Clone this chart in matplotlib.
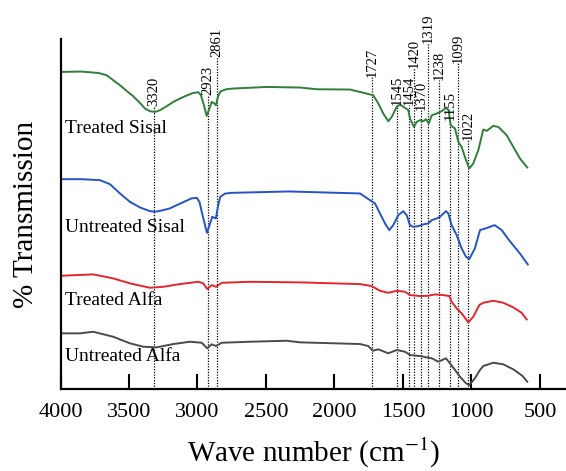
import numpy as np
import matplotlib
matplotlib.use("Agg")
import matplotlib.pyplot as plt

plt.rcParams['font.family'] = ['Liberation Serif', 'DejaVu Serif']
plt.rcParams['mathtext.fontset'] = 'stix'

# espectros FTIR (numero de onda, transmision relativa)
ts_wn = [4000, 3850, 3724, 3663, 3615, 3566, 3517, 3469, 3420, 3383, 3347, 3310, 3274, 3225,
         3177, 3128, 3079, 3031, 2994, 2975, 2955, 2933, 2915, 2896, 2880, 2865, 2850, 2831,
         2790, 2739, 2495, 2252, 2130, 1887, 1814, 1717, 1680, 1644, 1607, 1582, 1546, 1522,
         1485, 1461, 1449, 1420, 1400, 1376, 1352, 1332, 1312, 1290, 1254, 1218, 1186, 1165,
         1162, 1152, 1120, 1096, 1072, 1040, 1016, 987, 950, 914, 889, 841, 804, 743, 695,
         646, 593]
ts_y = [317.3, 317.7, 316.3, 314, 309, 304, 298.3, 293, 286.3, 280.7, 278, 277.3, 279, 283,
        287.3, 290.7, 293.7, 296.3, 297, 294, 285, 273.3, 280, 287.3, 286, 284, 293, 298,
        300, 300.7, 302.3, 301.7, 300, 299.7, 297.3, 294, 285.7, 275.7, 268, 272.3, 282.3,
        284.7, 281.3, 279, 270.7, 262.3, 267.3, 269, 268, 270, 265.7, 274, 275.7, 278, 281.3,
        279, 274, 264, 260.7, 247.3, 242.3, 229, 220.7, 225.7, 239, 259.7, 258.3, 263.3,
        262.3, 254, 242.3, 230.7, 221.7]

us_wn = [4000, 3850, 3712, 3639, 3566, 3493, 3420, 3347, 3310, 3250, 3203, 3124, 3045, 3005,
         2985, 2965, 2931, 2910, 2892, 2866, 2850, 2834, 2800, 2755, 2334, 1814, 1741, 1704,
         1668, 1631, 1600, 1571, 1534, 1498, 1473, 1449, 1425, 1388, 1352, 1315, 1290, 1254,
         1230, 1186, 1169, 1145, 1108, 1072, 1040, 1016, 975, 938, 897, 831, 779, 726, 647, 589]
us_y = [210, 210, 209, 205, 195.7, 187.3, 181.7, 178, 177.3, 179, 180.7, 185.7, 190.7, 191.3,
        187, 175, 156.3, 165, 172.3, 170.7, 183, 192.3, 195.5, 196.3, 197.7, 195.7, 189,
        185.7, 175.7, 165.7, 159, 164, 174, 178, 174, 164, 162.3, 163, 164.7, 165.7, 169,
        170.7, 172.3, 178, 175.7, 164, 154, 140.7, 132.3, 130, 140.7, 159, 160.7, 164, 159,
        149, 135.7, 124.7]

ta_wn = [4000, 3761, 3615, 3493, 3347, 3250, 3128, 2994, 2958, 2929, 2896, 2865, 2823, 2615,
         2252, 1814, 1729, 1668, 1607, 1546, 1485, 1449, 1376, 1315, 1266, 1206, 1162, 1145,
         1108, 1072, 1023, 987, 943, 914, 841, 768, 695, 634, 597]
ta_y = [113.3, 114.7, 110.7, 105.7, 101.3, 102.3, 105, 107.3, 105.7, 100, 104, 102.3, 106.3,
        107.3, 106.7, 105, 103, 98.3, 96.3, 98.3, 97.3, 94, 93, 93.3, 94.7, 94, 93, 87.3,
        80.7, 75.7, 66.7, 72.3, 84, 86.3, 88.3, 86.3, 81.7, 76.3, 69.7]

ua_wn = [4000, 3858, 3761, 3615, 3493, 3396, 3298, 3177, 3055, 2969, 2929, 2896, 2865, 2823,
         2615, 2349, 2252, 1814, 1753, 1721, 1680, 1607, 1546, 1485, 1449, 1376, 1328, 1290,
         1242, 1186, 1157, 1120, 1084, 1040, 1016, 975, 938, 914, 841, 768, 695, 627, 593]
ua_y = [55.7, 55.7, 57.3, 52.3, 45.7, 42.3, 41.7, 45, 47.3, 46.3, 40.7, 44.7, 43, 46.3, 47.3,
        48.3, 46.7, 45, 43, 38.3, 39.7, 35.7, 39, 37.3, 34, 33, 31.7, 30.7, 27.3, 30.7, 25.7,
        19, 12.3, 5.7, 4, 10.7, 19, 23, 26.3, 24.7, 19.7, 13, 7.3]

# bandas marcadas y altura de su etiqueta
picos = [3320, 2923, 2861, 1727, 1545, 1454, 1420, 1370, 1319, 1238, 1155, 1099, 1022]
alto_pico = [283, 294, 332, 312, 284, 284, 321, 279, 346, 309, 269, 326, 249]

nombres = ['Treated Sisal', 'Untreated Sisal', 'Treated Alfa', 'Untreated Alfa']
nombre_y = [256.3, 157.3, 84, 28.3]
colores = ['#2f7f3b', '#2453c6', '#e3262b', '#4a4a4a']

fig = plt.figure(figsize=(5.66, 4.71), dpi=100)
ax = fig.add_axes([0.1069, 0.1741, 0.8931, 0.7425])

# lineas punteadas de las bandas
for p, h in zip(picos, alto_pico):
    ax.vlines(p, 0, h, colors='black', linestyles=(0, (1, 1.2)), linewidth=0.9)
    ax.text(p, h, str(p), rotation=90, ha='center', va='bottom', fontsize=10.5)

for (wn, y), c in zip([(ts_wn, ts_y), (us_wn, us_y), (ta_wn, ta_y), (ua_wn, ua_y)], colores):
    ax.plot(wn, y, color=c, linewidth=1.4)

for n, y in zip(nombres, nombre_y):
    ax.text(3967, y, n, fontsize=14, va='baseline', ha='left')

ax.set_xlim(4000, 310)
ax.set_ylim(0, 350)
ax.set_xticks([4000, 3500, 3000, 2500, 2000, 1500, 1000, 500])
ax.set_yticks([])
ax.tick_params(axis='x', direction='in', length=11, width=1.5, labelsize=16, pad=10)
ax.spines['top'].set_visible(False)
ax.spines['right'].set_visible(False)
ax.spines['left'].set_linewidth(1.6)
ax.spines['bottom'].set_linewidth(1.6)

ax.set_xlabel(r'Wave number (cm$^{-1}$)', fontsize=21, labelpad=10)
ax.set_ylabel('% Transmission', fontsize=21)
ax.yaxis.set_label_coords(-0.042, 0.5)

plt.savefig('out.png', dpi=100)
